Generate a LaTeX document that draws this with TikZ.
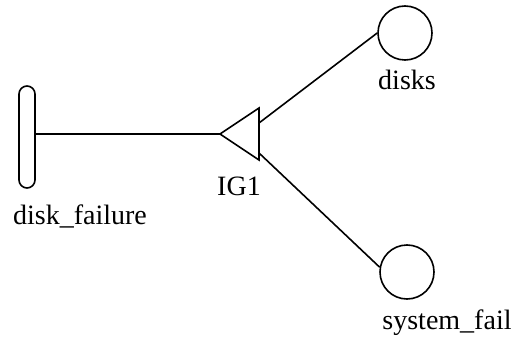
\documentclass[tikz,border=0pt]{standalone}
\usepackage{fontspec}
\setmainfont{Liberation Serif}
\begin{document}
\begin{tikzpicture}[x=1pt,y=-1pt,
  every node/.style={font=\fontsize{28}{32}\selectfont},
  link/.style={line width=1.6pt},
  basic/.style={draw,circle,line width=1.6pt,minimum size=54pt,inner sep=0pt},
  topbar/.style={draw,rectangle,rounded corners=8pt,line width=1.6pt,
    minimum width=16pt,minimum height=102pt,inner sep=0pt},
  lbl/.style={anchor=base,inner sep=0pt}]
\useasboundingbox (0,0) rectangle (516,339);

% top event
\node[topbar] (top) at (27,137) {};
\node[lbl] (toplbl) at (80,224) {disk\_failure};

% inhibit gate drawn as a left-pointing triangle
\coordinate (apex) at (220,134);
\coordinate (gtop) at (259,108);
\coordinate (gbot) at (259,160);
\coordinate (gup) at (259,123);
\coordinate (gdown) at (259,153);
\draw[link,line join=miter] (apex) -- (gtop) -- (gbot) -- cycle;
\node[lbl] (ig1) at (239,195) {IG1};

% basic events
\node[basic] (disks) at (405,33) {};
\node[lbl] (diskslbl) at (407,90) {disks};
\node[basic] (sys) at (407,272) {};
\node[lbl] (syslbl) at (447,329) {system\_fail};

% connectors
\draw[link] (top.east |- apex) -- (apex);
\draw[link] (gup) -- (disks.west);
\draw[link] (gdown) -- (sys.170);
\end{tikzpicture}
\end{document}
